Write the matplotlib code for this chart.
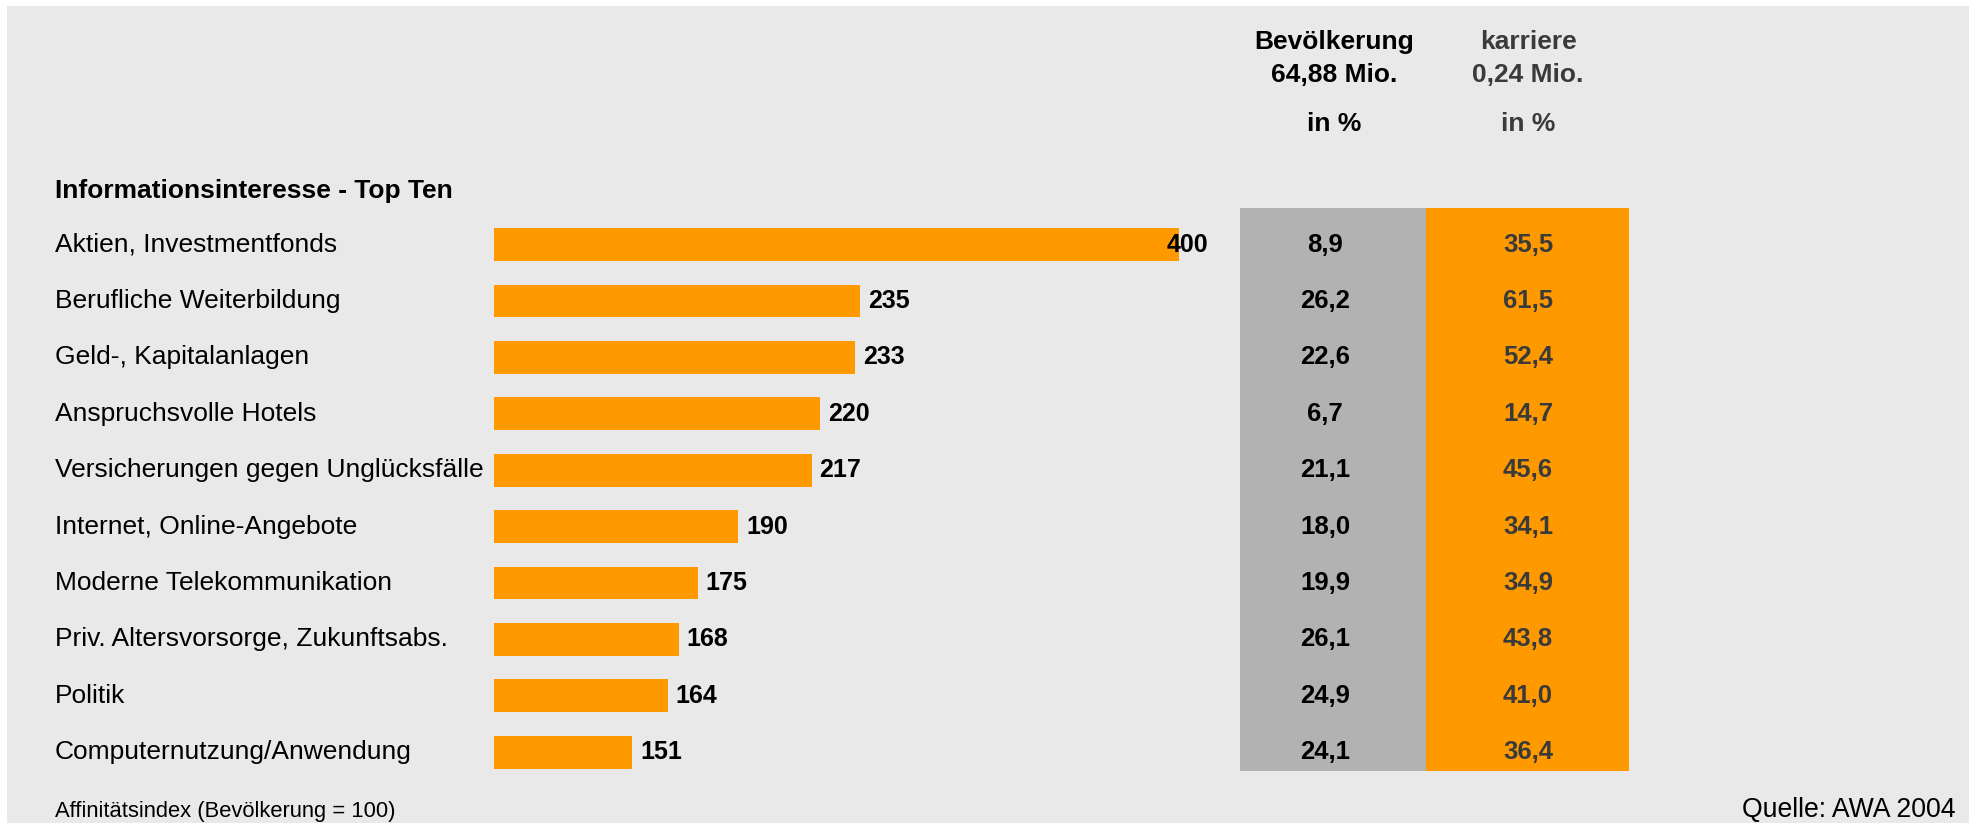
import matplotlib
matplotlib.use("Agg")
import matplotlib.pyplot as plt
from matplotlib.patches import Rectangle
from matplotlib.transforms import blended_transform_factory

plt.rcParams['font.family'] = ['Liberation Sans', 'DejaVu Sans']

# data
categories = [
    "Aktien, Investmentfonds",
    "Berufliche Weiterbildung",
    "Geld-, Kapitalanlagen",
    "Anspruchsvolle Hotels",
    "Versicherungen gegen Unglücksfälle",
    "Internet, Online-Angebote",
    "Moderne Telekommunikation",
    "Priv. Altersvorsorge, Zukunftsabs.",
    "Politik",
    "Computernutzung/Anwendung",
]
affinity = [400, 235, 233, 220, 217, 190, 175, 168, 164, 151]
bevoelkerung = ["8,9", "26,2", "22,6", "6,7", "21,1", "18,0", "19,9", "26,1", "24,9", "24,1"]
karriere = ["35,5", "61,5", "52,4", "14,7", "45,6", "34,1", "34,9", "43,8", "41,0", "36,4"]

ORANGE = "#ff9900"
GRAY = "#b2b2b2"
BG = "#e9e9e9"
DARK = "#3a3a3a"

W, H = 1969, 823
DPI = 100


def fx(px):
    return px / W


def fy(py):
    return 1 - py / H


fig = plt.figure(figsize=(W / DPI, H / DPI), dpi=DPI, facecolor="white")
fig.patches.append(Rectangle((fx(7), 0), 1, fy(6), transform=fig.transFigure,
                             facecolor=BG, edgecolor="none", zorder=-10))

# rows: centre of first row at 244.6 px, spacing 56.4 px
n = len(categories)
row_h = 56.4
top_px = 244.6 - row_h / 2
bot_px = top_px + n * row_h
XMIN, XMAX = 100, 352.4

ax = fig.add_axes([fx(494), fy(bot_px), fx(1179) - fx(494), (bot_px - top_px) / H])
ax.set_xlim(XMIN, XMAX)
ax.set_ylim(n - 0.5, -0.5)
ax.axis("off")
ys = list(range(n))
ax.barh(ys, affinity, height=0.58, color=ORANGE, edgecolor="none")

for y, v in zip(ys, affinity):
    if v <= XMAX:
        ax.annotate(str(v), (v, y), xytext=(5.8, 0), textcoords="offset points",
                    ha="left", va="center", fontsize=18, fontweight="bold")
    else:
        # bar is cut at the right edge, label sits over the end
        ax.annotate(str(v), (XMAX, y), xytext=(-8.6, 0), textcoords="offset points",
                    ha="left", va="center", fontsize=18, fontweight="bold")

lab_tr = blended_transform_factory(fig.transFigure, ax.transData)
for y, c in zip(ys, categories):
    ax.text(fx(55), y, c, transform=lab_tr, ha="left", va="center", fontsize=19)

# table columns
ax2 = fig.add_axes([fx(1240), fy(bot_px), fx(1629) - fx(1240), (bot_px - top_px) / H])
ax2.set_xlim(1240, 1629)
ax2.set_ylim(n - 0.5, -0.5)
ax2.axis("off")
col_top = (208 - top_px) / row_h - 0.5
col_bot = (770.7 - top_px) / row_h - 0.5
ax2.add_patch(Rectangle((1240, col_top), 186, col_bot - col_top, facecolor=GRAY,
                        edgecolor="none", clip_on=False))
ax2.add_patch(Rectangle((1426, col_top), 203, col_bot - col_top, facecolor=ORANGE,
                        edgecolor="none", clip_on=False))
for y, b, k in zip(ys, bevoelkerung, karriere):
    ax2.text(1325, y, b, ha="center", va="center", fontsize=18.5, fontweight="bold", color="black")
    ax2.text(1528, y, k, ha="center", va="center", fontsize=18.5, fontweight="bold", color=DARK)

# headers
fig.text(fx(1334), fy(42), "Bevölkerung", ha="center", va="center", fontsize=19, fontweight="bold")
fig.text(fx(1334), fy(75), "64,88 Mio.", ha="center", va="center", fontsize=19, fontweight="bold")
fig.text(fx(1334), fy(124), "in %", ha="center", va="center", fontsize=19, fontweight="bold")
fig.text(fx(1528), fy(42), "karriere", ha="center", va="center", fontsize=19, fontweight="bold", color=DARK)
fig.text(fx(1528), fy(75), "0,24 Mio.", ha="center", va="center", fontsize=19, fontweight="bold", color=DARK)
fig.text(fx(1528), fy(124), "in %", ha="center", va="center", fontsize=19, fontweight="bold", color=DARK)

fig.text(fx(55), fy(191), "Informationsinteresse - Top Ten", ha="left", va="center",
         fontsize=19, fontweight="bold")

# footer
fig.text(fx(55), fy(811), "Affinitätsindex (Bevölkerung = 100)", ha="left", va="center", fontsize=15.8)
fig.text(fx(1955), fy(810), "Quelle: AWA 2004", ha="right", va="center", fontsize=19.2)

fig.savefig("out.png", dpi=DPI, facecolor=fig.get_facecolor())
